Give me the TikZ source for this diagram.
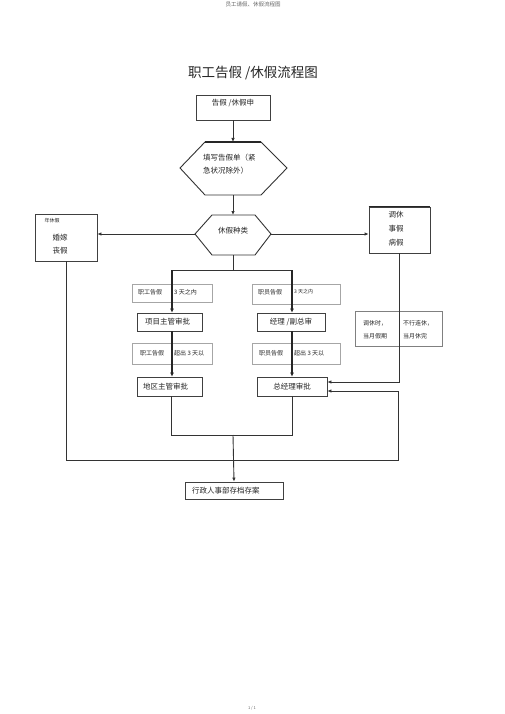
\documentclass[tikz,border=0pt]{standalone}
\usepackage{fontspec}
\setmainfont{Noto Sans CJK SC}
\usetikzlibrary{arrows.meta}
\begin{document}
\begin{tikzpicture}[x=1pt,y=-1pt,
  box/.style={draw=black!75,line width=0.8pt,inner sep=0pt,minimum height=19pt},
  lbl/.style={draw=black!35,line width=0.5pt,inner sep=0pt},
  txt/.style={inner sep=0pt,font=\fontsize{7.5}{9}\selectfont,text=black!85},
  stxt/.style={inner sep=0pt,font=\fontsize{6}{7}\selectfont,text=black!85},
  conn/.style={draw=black!80,line width=0.9pt},
  tconn/.style={draw=black!85,line width=1.4pt},
  arr/.style={conn,-{Latex[length=4pt,width=3.5pt]}},
  tarr/.style={tconn,-{Latex[length=4pt,width=4pt]}},
  hex/.style={draw=black!80,line width=0.9pt},
]
\useasboundingbox (0,0) rectangle (505,714);
\fill[white] (0,0) rectangle (505,714);

% header / footer / title
\node (hdr) [inner sep=0pt,font=\fontsize{5.5}{6}\selectfont,text=black!60] at (253,4) {员工请假、休假流程图};
\node (ftr) [inner sep=0pt,font=\fontsize{4}{5}\selectfont,text=black!60] at (252,708) {1 / 1};
\node (title) [inner sep=0pt,font=\fontsize{13.5}{15}\selectfont,text=black!85] at (253,73) {职工告假 /休假流程图};

% box 1
\node (b1) [box,minimum width=74pt,minimum height=25pt] at (233,107.5) {};
\node (b1t) [txt] at (233,103) {告假 /休假申};

% hexagon 1
\coordinate (h1l) at (180,168);
\coordinate (h1tl) at (205,142);
\coordinate (h1tr) at (261,142);
\coordinate (h1r) at (287,168);
\coordinate (h1br) at (261,195);
\coordinate (h1bl) at (205,195);
\coordinate (h1t) at (233,142);
\coordinate (h1b) at (233,195);
\draw[hex] (h1l) -- (h1tl) -- (h1tr) -- (h1r) -- (h1br) -- (h1bl) -- cycle;
\draw[line width=1.6pt,black!85] (h1tl) -- (h1tr);
\node (h1a) [txt,anchor=west] at (203,158) {填写告假单（紧};
\node (h1b2) [txt,anchor=west] at (203,171) {急状况除外）};

% hexagon 2
\coordinate (h2l) at (195,234);
\coordinate (h2tl) at (212,215);
\coordinate (h2tr) at (255,215);
\coordinate (h2r) at (271,234);
\coordinate (h2br) at (255,255);
\coordinate (h2bl) at (212,255);
\coordinate (h2t) at (233,215);
\coordinate (h2b) at (233,255);
\draw[hex] (h2l) -- (h2tl) -- (h2tr) -- (h2r) -- (h2br) -- (h2bl) -- cycle;
\node (h2txt) [txt] at (233,231) {休假种类};

% left and right boxes
\node (lb) [box,minimum width=62pt,minimum height=47pt] at (66,237.5) {};
\node (lb1) [inner sep=0pt,font=\fontsize{5}{6}\selectfont,text=black!85] at (52,221) {年休假};
\node (lb2) [txt] at (60,238) {婚嫁};
\node (lb3) [txt] at (60,251) {丧假};

\node (rb) [box,minimum width=61pt,minimum height=46pt] at (399.5,230) {};
\draw[line width=1.4pt,black!85] (rb.north west) -- (rb.north east);
\node (rb1) [txt] at (396,215) {调休};
\node (rb2) [txt] at (396,229) {事假};
\node (rb3) [txt] at (396,243) {病假};

% label boxes row 1
\node (l1) [lbl,minimum width=80pt,minimum height=18pt] at (172,293) {};
\node (l1a) [stxt,anchor=west] at (138,292) {职工告假};
\node (l1b) [stxt,anchor=west] at (174,292) {3 天之内};
\node (l2) [lbl,minimum width=88pt,minimum height=20pt] at (296,294) {};
\node (l2a) [stxt,anchor=west] at (258,292) {职员告假};
\node (l2b) [inner sep=0pt,font=\fontsize{5}{6}\selectfont,text=black!85,anchor=west] at (294,292) {3 天之内};

% approval boxes row 1
\node (p1) [box,minimum width=65pt,minimum height=18pt] at (169.5,322) {};
\node (p1t) [txt,anchor=west] at (145,322) {项目主管审批};
\node (p2) [box,minimum width=68pt,minimum height=18pt] at (291,322) {};
\node (p2t) [txt] at (291,322) {经理 /副总审};

% side note box
\node (sb) [lbl,draw=black!50,minimum width=87pt,minimum height=35pt] at (398.5,328.5) {};
\node (sb1) [stxt,anchor=west] at (363,323) {调休时，};
\node (sb2) [stxt,anchor=west] at (363,336) {当月假期};
\node (sb3) [stxt,anchor=west] at (403,323) {不行连休，};
\node (sb4) [stxt,anchor=west] at (403,336) {当月休完};

% label boxes row 2
\node (l3) [lbl,minimum width=80pt,minimum height=21pt] at (172,353.5) {};
\node (l3a) [stxt,anchor=west] at (140,353) {职工告假};
\node (l3b) [stxt,anchor=west] at (174,353) {超出 3 天以};
\node (l4) [lbl,minimum width=88pt,minimum height=21pt] at (296,353.5) {};
\node (l4a) [stxt,anchor=west] at (259,353) {职员告假};
\node (l4b) [stxt,anchor=west] at (294,353) {超出 3 天以};

% approval boxes row 2
\node (q1) [box,minimum width=65pt,minimum height=19pt] at (169.5,386.5) {};
\node (q1t) [txt,anchor=west] at (143,386.5) {地区主管审批};
\node (q2) [box,minimum width=70pt,minimum height=19pt] at (292,386.5) {};
\node (q2t) [txt] at (292,386.5) {总经理审批};

% final box
\node (fin) [box,minimum width=98pt,minimum height=17pt] at (234,490.5) {};
\node (fint) [txt,anchor=west] at (192,490.5) {行政人事部存档存案};

% coordinates for connectors
\coordinate (c5) at (233,270);
\coordinate (s1) at (172,270);
\coordinate (s2) at (292,270);
\coordinate (c2) at (398,460);
\coordinate (c4) at (233,435);
\coordinate (c6) at (171,435);

% connectors
\draw[arr] (b1.south) -- (h1t);
\draw[arr] (h1b) -- (h2t);
\draw[arr] (h2l) -- (h2l -| lb.east);
\draw[arr] (h2r) -- (h2r -| rb.west);
\draw[conn] (h2b) -- (c5);
\draw[conn] (s1) -- (s2);
\draw[tarr] (s1) -- (s1 |- p1.north);
\draw[tarr] (s2) -- (s2 |- p2.north);
\draw[tarr] (s1 |- p1.south) -- (s1 |- q1.north);
\draw[tarr] (s2 |- p2.south) -- (s2 |- q2.north);
\draw[arr] (rb.south) |- ([yshift=4.5pt]q2.east);
\draw[arr] (lb.south) |- (c2) |- ([yshift=-4.5pt]q2.east);
\draw[conn] (c6 |- q1.south) -- (c6) -| (q2.south);
\draw[arr] (c4) -- (fin.north);
\end{tikzpicture}
\end{document}
